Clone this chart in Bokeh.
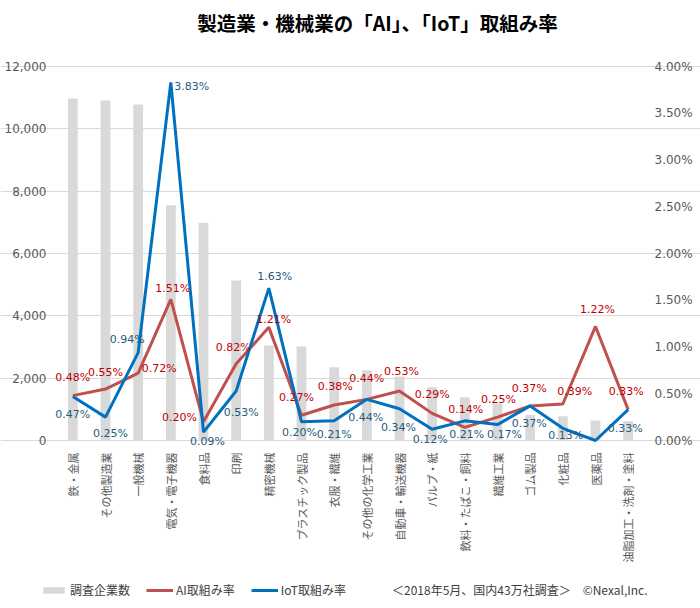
import math
from bokeh.plotting import figure
from bokeh.models import (FactorRange, Range1d, FixedTicker, Grid, ColumnDataSource, Legend,
                          LegendItem, LabelSet, Label)
from bokeh.core.properties import value
from bokeh.embed import file_html
from bokeh.resources import INLINE

categories = ["鉄・金属", "その他製造業", "一般機械", "電気・電子機器", "食料品", "印刷", "精密機械",
              "プラスチック製品", "衣服・繊維", "その他の化学工業", "自動車・輸送機器", "パルプ・紙",
              "飲料・たばこ・飼料", "繊維工業", "ゴム製品", "化粧品", "医薬品", "油脂加工・洗剤・塗料"]
companies = [10970, 10910, 10780, 7550, 6990, 5130, 3050, 3020, 2350, 2250, 2050, 1710,
             1390, 1190, 820, 780, 640, 620]
ai_rate = [0.48, 0.55, 0.72, 1.51, 0.20, 0.82, 1.21, 0.27, 0.38, 0.44, 0.53, 0.29,
           0.14, 0.25, 0.37, 0.39, 1.22, 0.33]
iot_rate = [0.47, 0.25, 0.94, 3.83, 0.09, 0.53, 1.63, 0.20, 0.21, 0.44, 0.34, 0.12,
            0.21, 0.17, 0.37, 0.13, 0.00, 0.33]
iot_label_shown = [True] * 16 + [False, True]
left_ticks = [0, 2000, 4000, 6000, 8000, 10000, 12000]
right_ticks = [0, 0.5, 1.0, 1.5, 2.0, 2.5, 3.0, 3.5, 4.0]
title_text = "製造業・機械業の「AI」、「IoT」取組み率"
note_text = "＜2018年5月、国内43万社調査＞　©Nexal,Inc."

# label offsets (screen px, positive = right / up)
ai_dx = [0, 0, 21, 2, -24, -3, 5, -5, 1, 0, 2, 0, 1, 1, -1, 12, 2, -2]
ai_dy = [18, 17, 5, 11, 4, 16, 8, 18, 18, 21, 19, 19, 18, 18, 17, 13, 17, 18]
iot_dx = [0, 5, -11, 21, 4, 5, 6, -2, 0, -1, -1, -2, 2, 7, -1, 3, 0, -3]
iot_dy = [-18, -16, 13, -4, -9, -22, 12, -11, -14, -18, -19, -10, -14, -10, -18, -7, 0, -19]

JP = "Noto Sans CJK JP"
NUM = "DejaVu Sans"
GRAY = "#595959"

# layout (pixels). The plotting frame covers the whole canvas so that no
# text is clipped; values 0..12000 map onto y = 440..66, categories onto x = 56..646.
W, H = 700, 608
TOP_PX, ZERO_PX = 66, 440
PLOT_L = 56
LEFT_MAX, PCT_MAX = 12000, 4.0
upp = LEFT_MAX / float(ZERO_PX - TOP_PX)       # data units per pixel
y_lo = -(H - ZERO_PX) * upp
y_hi = LEFT_MAX + TOP_PX * upp
k = PCT_MAX / LEFT_MAX
cat_w = (W - 2 * PLOT_L) / float(len(categories))
pad_units = PLOT_L / cat_w

src = ColumnDataSource(dict(
    cat=categories, companies=companies, ai=ai_rate, iot=iot_rate,
    zero=[0] * len(categories),
    ai_lbl=["%.2f%%" % v for v in ai_rate],
    iot_lbl=[("%.2f%%" % v) if s else "" for v, s in zip(iot_rate, iot_label_shown)],
    ai_dx=ai_dx, ai_dy=ai_dy, iot_dx=iot_dx, iot_dy=iot_dy,
))
left_src = ColumnDataSource(dict(y=left_ticks, x=[categories[0]] * len(left_ticks),
                                 t=["{:,}".format(v) for v in left_ticks]))
right_src = ColumnDataSource(dict(y=right_ticks, x=[categories[-1]] * len(right_ticks),
                                  t=["%.2f%%" % v for v in right_ticks]))

p = figure(width=W, height=H,
           x_range=FactorRange(factors=categories, range_padding=pad_units,
                               range_padding_units="absolute"),
           y_range=Range1d(y_lo, y_hi), output_backend="svg", toolbar_location=None, title=None,
           x_axis_location=None, y_axis_location=None,
           min_border_left=0, min_border_right=0, min_border_top=0, min_border_bottom=0)
p.extra_y_ranges = {"pct": Range1d(y_lo * k, y_hi * k)}
p.outline_line_color = None
p.background_fill_color = "white"
p.border_fill_color = "white"

# drop default grids; use horizontal gridlines at the company ticks only
p.center = [r for r in p.center if not isinstance(r, Grid)]
p.add_layout(Grid(dimension=1, ticker=FixedTicker(ticks=left_ticks), bounds=(0, len(categories)),
                  grid_line_color="#D9D9D9", grid_line_width=1))

bars = p.vbar(x="cat", top="companies", width=0.3, source=src, fill_color="#D9D9D9", line_color=None)
ai_line = p.line(x="cat", y="ai", source=src, y_range_name="pct", line_color="#C0504D", line_width=3)
iot_line = p.line(x="cat", y="iot", source=src, y_range_name="pct", line_color="#0070C0", line_width=3)
note_dummy = p.line(x=[categories[0]], y=[0], line_alpha=0)

p.add_layout(LabelSet(x="cat", y="ai", text="ai_lbl", source=src, y_range_name="pct",
                      x_offset="ai_dx", y_offset="ai_dy", text_align="center", text_baseline="middle",
                      text_font=value(NUM), text_font_size="11px", text_color="#C00000"))
p.add_layout(LabelSet(x="cat", y="iot", text="iot_lbl", source=src, y_range_name="pct",
                      x_offset="iot_dx", y_offset="iot_dy", text_align="center", text_baseline="middle",
                      text_font=value(NUM), text_font_size="11px", text_color="#1F5C80"))

# category labels, rotated, hanging below the zero line
p.add_layout(LabelSet(x="cat", y="zero", text="cat", source=src, y_offset=-12, angle=math.pi / 2,
                      text_align="right", text_baseline="middle", text_font=value(JP),
                      text_font_size="11px", text_color=GRAY))

# value axes (left: companies, right: percentage)
p.add_layout(LabelSet(x="x", y="y", text="t", source=left_src, x_offset=-(cat_w / 2 + 10),
                      text_align="right", text_baseline="middle", text_font=value(NUM),
                      text_font_size="12px", text_color=GRAY))
p.add_layout(LabelSet(x="x", y="y", text="t", source=right_src, y_range_name="pct",
                      x_offset=cat_w / 2 + 10, text_align="left", text_baseline="middle",
                      text_font=value(NUM), text_font_size="12px", text_color=GRAY))

# title
p.add_layout(Label(x=(377 - PLOT_L) / cat_w, y=LEFT_MAX + (TOP_PX - 22) * upp, text=title_text,
                   text_align="center", text_baseline="middle", text_font=JP,
                   text_font_size="19.5px", text_font_style="bold", text_color="#000000"))

legend = Legend(items=[LegendItem(label="調査企業数", renderers=[bars]),
                       LegendItem(label="AI取組み率", renderers=[ai_line]),
                       LegendItem(label="IoT取組み率", renderers=[iot_line]),
                       LegendItem(label=note_text, renderers=[note_dummy])],
                orientation="horizontal", location=(40, 10), glyph_width=27, glyph_height=8,
                label_standoff=3, spacing=16, padding=0, margin=0, border_line_color=None,
                background_fill_alpha=0, label_text_font=JP, label_text_font_size="12px",
                label_text_color="#404040", label_height=14)
p.add_layout(legend, "center")

open("out.html", "w").write(file_html(p, INLINE))
